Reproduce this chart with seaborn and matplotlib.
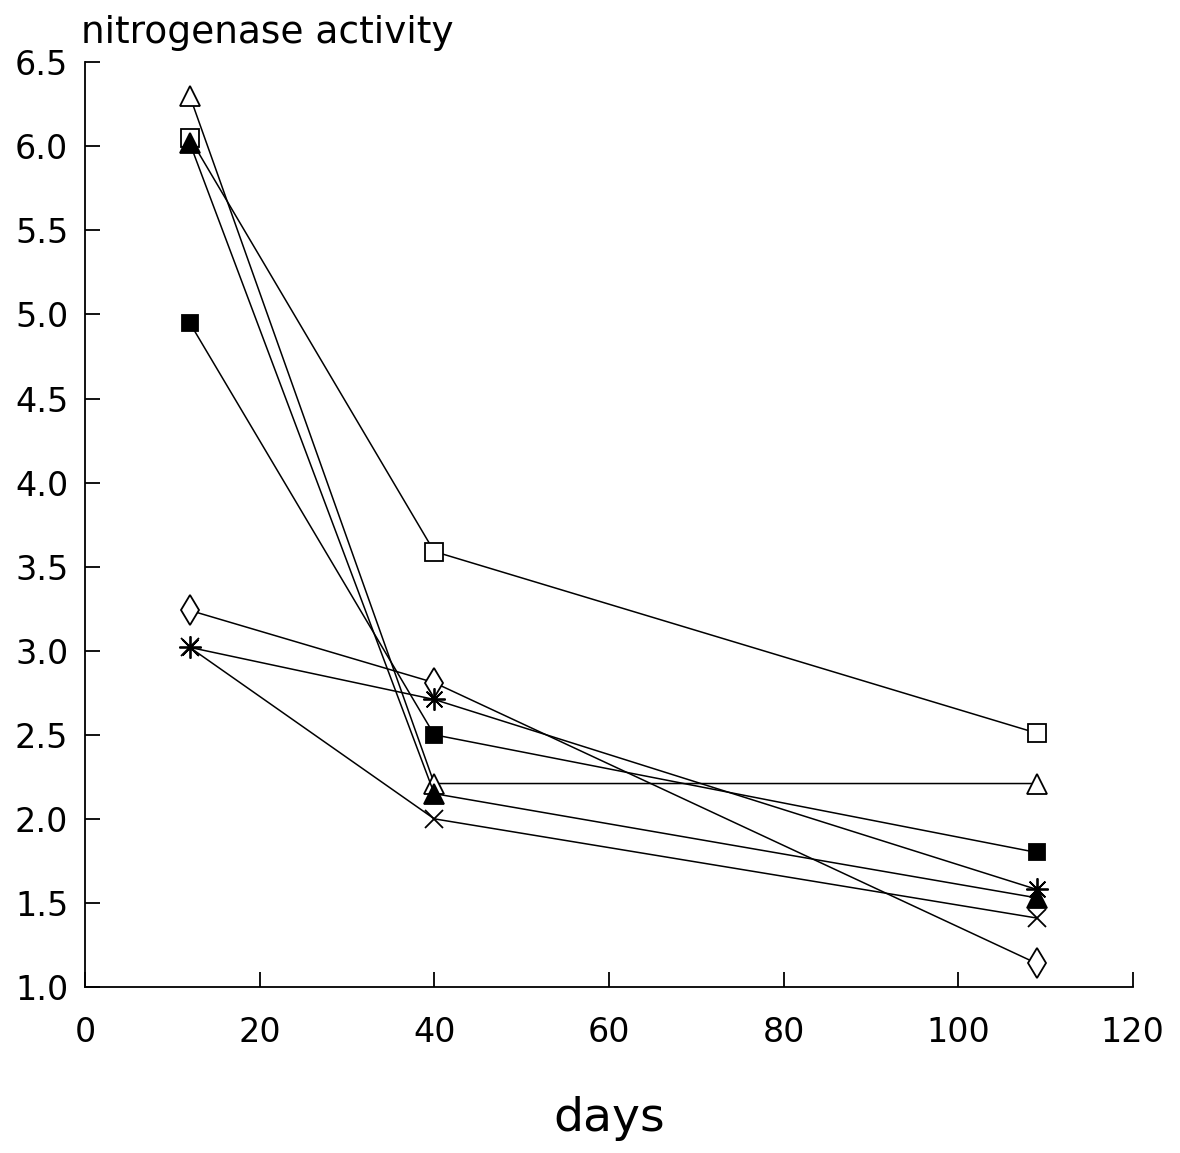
import numpy as np
import pandas as pd
import matplotlib
matplotlib.use("Agg")
import matplotlib.pyplot as plt
import seaborn as sns

# datos
days = [12, 40, 109]
open_triangle = [6.30, 2.21, 2.21]
open_square = [6.05, 3.59, 2.51]
filled_triangle = [6.02, 2.15, 1.53]
filled_square = [4.95, 2.50, 1.80]
diamond = [3.24, 2.81, 1.14]
asterisk = [3.02, 2.71, 1.58]
cross = [3.02, 2.00, 1.41]

x_ticks = [0, 20, 40, 60, 80, 100, 120]
y_ticks = [1.0, 1.5, 2.0, 2.5, 3.0, 3.5, 4.0, 4.5, 5.0, 5.5, 6.0, 6.5]

sns.set_style("white")
plt.rcParams["font.family"] = ["DejaVu Sans"]
plt.rcParams["text.color"] = "black"
plt.rcParams["axes.labelcolor"] = "black"

fig = plt.figure(figsize=(11.8, 11.53), dpi=100)
ax = fig.add_axes([0.072, 0.144, 0.888, 0.802])

# (valores, marcador, relleno, tamaño)
series = [
    (open_square, "s", "white", 13),
    (open_triangle, "^", "white", 15),
    (filled_square, "s", "black", 12),
    (filled_triangle, "^", "black", 15),
    (diamond, "d", "white", 15),
    (asterisk, (8, 2, 0), "black", 16),
    (cross, "x", "black", 13),
]

for vals, mk, fc, ms in series:
    df = pd.DataFrame({"days": days, "value": vals})
    sns.lineplot(
        data=df, x="days", y="value", ax=ax, color="black", linewidth=1.1,
        marker=mk, markersize=ms, markerfacecolor=fc, markeredgecolor="black",
        markeredgewidth=1.3,
    )

ax.set_xlim(0, 120)
ax.set_ylim(1.0, 6.5)
ax.set_xticks(x_ticks)
ax.set_yticks(y_ticks)
ax.set_xticklabels([str(t) for t in x_ticks])
ax.set_yticklabels([f"{t:.1f}" for t in y_ticks])

for side in ["top", "right"]:
    ax.spines[side].set_visible(False)
for side in ["left", "bottom"]:
    ax.spines[side].set_color("black")
    ax.spines[side].set_linewidth(1.3)

ax.tick_params(axis="both", direction="in", length=11, width=1.3,
               labelsize=24, colors="black", bottom=True, left=True)
ax.tick_params(axis="y", pad=12)
ax.tick_params(axis="x", pad=21)

ax.set_xlabel("days", fontsize=34, labelpad=34, color="black")
ax.set_ylabel("")
ax.set_title("nitrogenase activity", loc="left", fontsize=27, pad=14,
             x=-0.004, color="black")

fig.savefig("out.png", dpi=100)
